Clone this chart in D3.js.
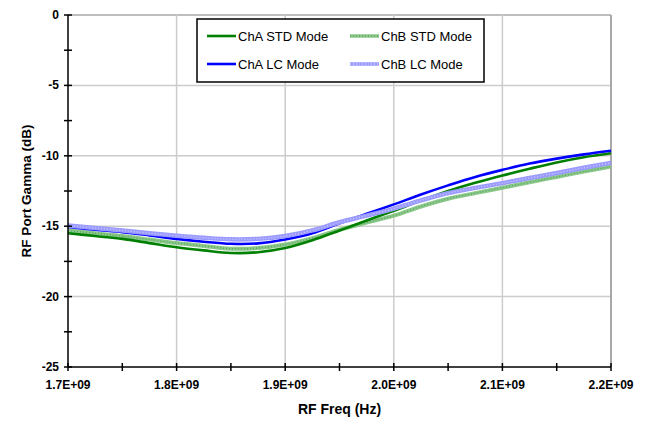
<!DOCTYPE html>
<html><head><meta charset="utf-8">
<script src="https://cdn.jsdelivr.net/npm/d3@7"></script>
<style>body{margin:0;background:#fff}svg{display:block}text{font-family:Arial,"Liberation Sans",sans-serif}</style>
</head><body>
<script>
const freqs = [1.700,1.725,1.750,1.775,1.800,1.825,1.850,1.875,1.900,1.925,1.950,1.975,2.000,2.025,2.050,2.075,2.100,2.125,2.150,2.175,2.200].map(f=>f*1e9);
const chaStd = [-15.5,-15.7,-15.9,-16.2,-16.5,-16.72,-16.9,-16.85,-16.55,-16.0,-15.3,-14.6,-13.9,-13.18,-12.5,-11.92,-11.4,-10.92,-10.47,-10.1,-9.82];
const chbStd = [-15.3,-15.5,-15.7,-15.95,-16.2,-16.4,-16.6,-16.55,-16.3,-15.85,-15.25,-14.75,-14.25,-13.6,-13.05,-12.65,-12.27,-11.88,-11.5,-11.12,-10.77];
const chaLc = [-15.05,-15.25,-15.42,-15.65,-15.9,-16.1,-16.25,-16.22,-15.95,-15.5,-14.8,-14.12,-13.45,-12.75,-12.1,-11.5,-11.0,-10.55,-10.2,-9.9,-9.64];
const chbLc = [-14.95,-15.12,-15.3,-15.5,-15.67,-15.82,-15.93,-15.9,-15.7,-15.3,-14.72,-14.25,-13.75,-13.17,-12.65,-12.28,-11.94,-11.58,-11.22,-10.85,-10.5];
const xTicks = [1.7e9,1.8e9,1.9e9,2.0e9,2.1e9,2.2e9];
const xTickLabels = ["1.7E+09","1.8E+09","1.9E+09","2.0E+09","2.1E+09","2.2E+09"];
const yTicks = [0,-5,-10,-15,-20,-25];
const legendNames = ["ChA STD Mode","ChB STD Mode","ChA LC Mode","ChB LC Mode"];

const W=651,H=423, L=68,R=611,T=15,B=367;
const svg=d3.select("body").append("svg").attr("width",W).attr("height",H);
const x=d3.scaleLinear().domain([1.7e9,2.2e9]).range([L,R]);
const y=d3.scaleLinear().domain([-25,0]).range([B,T]);

// gridlines
const g=svg.append("g");
g.selectAll(".hg").data(yTicks.filter(v=>v>-25)).join("line")
 .attr("x1",L).attr("x2",R).attr("y1",d=>y(d)).attr("y2",d=>y(d))
 .attr("stroke",d=>d===0?"#a8a8a8":"#cccccc").attr("stroke-width",1.5);
g.selectAll(".vg").data(xTicks.slice(1)).join("line")
 .attr("y1",T).attr("y2",B).attr("x1",d=>x(d)).attr("x2",d=>x(d))
 .attr("stroke",d=>d===2.2e9?"#a8a8a8":"#cccccc").attr("stroke-width",d=>d===2.2e9?2:1.5);

// series
const line=vals=>d3.line().x((d,i)=>x(freqs[i])).y(d=>y(d)).curve(d3.curveCatmullRom.alpha(0.5))(vals);
const series=[
 {name:legendNames[0],vals:chaStd,color:"#008000",w:2.6,tex:null},
 {name:legendNames[1],vals:chbStd,color:"#8cc88c",w:4,tex:"#5aa85a"},
 {name:legendNames[2],vals:chaLc,color:"#0000ff",w:2.6,tex:null},
 {name:legendNames[3],vals:chbLc,color:"#9a9aff",w:4.5,tex:"#c8c8ff"}
];
const drawOrder=[1,0,2,3];
drawOrder.forEach(k=>{
  const s=series[k];
  svg.append("path").attr("d",line(s.vals)).attr("fill","none").attr("stroke",s.color).attr("stroke-width",s.w).attr("stroke-linejoin","round");
  if(s.tex) svg.append("path").attr("d",line(s.vals)).attr("fill","none").attr("stroke",s.tex).attr("stroke-width",1.5).attr("stroke-dasharray","1,2");
});

// axes
const xMinor=d3.range(0,11).map(i=>1.7e9+i*0.05e9);
const yMinor=d3.range(0,11).map(i=>-i*2.5);
const ax=svg.append("g");
ax.append("line").attr("x1",L).attr("x2",R).attr("y1",B).attr("y2",B).attr("stroke","#000").attr("stroke-width",1.5);
ax.append("line").attr("x1",L).attr("x2",L).attr("y1",T).attr("y2",B).attr("stroke","#000").attr("stroke-width",1.5);
ax.selectAll(".xt").data(xMinor).join("line").attr("x1",d=>x(d)).attr("x2",d=>x(d)).attr("y1",B-4).attr("y2",B+4).attr("stroke","#000").attr("stroke-width",1.5);
ax.selectAll(".yt").data(yMinor).join("line").attr("y1",d=>y(d)).attr("y2",d=>y(d)).attr("x1",L-4).attr("x2",L+4).attr("stroke","#000").attr("stroke-width",1.5);
ax.selectAll(".xl").data(xTicks).join("text").attr("x",d=>x(d)).attr("y",B+22).attr("text-anchor","middle")
 .attr("font-size",12).attr("font-weight","bold").text((d,i)=>xTickLabels[i]);
ax.selectAll(".yl").data(yTicks).join("text").attr("x",L-9).attr("y",d=>y(d)+4).attr("text-anchor","end")
 .attr("font-size",12).attr("font-weight","bold").text(d=>d);
svg.append("text").attr("x",(L+R)/2).attr("y",414).attr("text-anchor","middle").attr("font-size",14).attr("font-weight","bold").text("RF Freq (Hz)");
svg.append("text").attr("transform",`translate(31,${(T+B)/2}) rotate(-90)`).attr("text-anchor","middle").attr("font-size",13.5).attr("font-weight","bold").text("RF Port Gamma (dB)");

// legend
const lg=svg.append("g");
lg.append("rect").attr("x",197).attr("y",19).attr("width",287).attr("height",63).attr("fill","#fff").attr("stroke","#000").attr("stroke-width",1.5);
const pos=[[207,36],[350,36],[207,64],[350,64]];
series.forEach((s,i)=>{
  const [px,py]=pos[i];
  lg.append("line").attr("x1",px).attr("x2",px+29).attr("y1",py).attr("y2",py).attr("stroke",s.color).attr("stroke-width",s.tex?3.5:2.6);
  if(s.tex) lg.append("line").attr("x1",px).attr("x2",px+29).attr("y1",py).attr("y2",py).attr("stroke",s.tex).attr("stroke-width",1.5).attr("stroke-dasharray","1,2");
  lg.append("text").attr("x",px+31).attr("y",py+4.5).attr("font-size",13).text(s.name);
});
</script>
</body></html>
